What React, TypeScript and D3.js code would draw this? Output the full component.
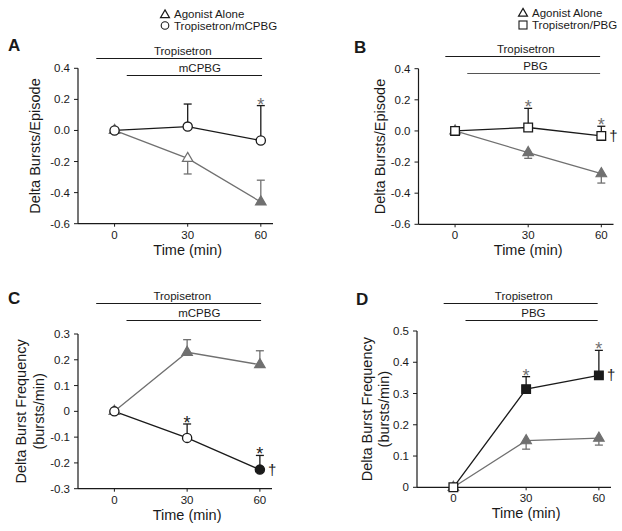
import React from "react";
import * as d3 from "d3";

// ---------- data ----------
const TIMES = [0, 30, 60];
const X_TICKS = [0, 30, 60];

const AB_Y_TICKS = [-0.6, -0.4, -0.2, 0, 0.2, 0.4];
const AB_Y_LABELS = ["-0.6", "-0.4", "-0.2", "0.0", "0.2", "0.4"];
const C_Y_TICKS = [-0.3, -0.2, -0.1, 0, 0.1, 0.2, 0.3];
const C_Y_LABELS = ["-0.3", "-0.2", "-0.1", "0", "0.1", "0.2", "0.3"];
const D_Y_TICKS = [0, 0.1, 0.2, 0.3, 0.4, 0.5];
const D_Y_LABELS = ["0", "0.1", "0.2", "0.3", "0.4", "0.5"];

// Panel A
const A_AGONIST = [0, -0.18, -0.46];
const A_AGONIST_SEM = [0, 0.1, 0.14];
const A_AGONIST_DIR = [-1, -1, 1];
const A_AGONIST_FILLED = [true, false, true];
const A_TREAT = [0, 0.025, -0.065];
const A_TREAT_SEM = [0, 0.145, 0.225];
const A_TREAT_DIR = [1, 1, 1];
const A_TREAT_FILLED = [false, false, false];
const A_STARS = [false, false, true];
const A_DAGGERS = [false, false, false];

// Panel B
const B_AGONIST = [0, -0.139, -0.275];
const B_AGONIST_SEM = [0, 0.037, 0.06];
const B_AGONIST_DIR = [-1, -1, -1];
const B_AGONIST_FILLED = [true, true, true];
const B_TREAT = [0, 0.022, -0.032];
const B_TREAT_SEM = [0, 0.123, 0.062];
const B_TREAT_DIR = [1, 1, 1];
const B_TREAT_FILLED = [false, false, false];
const B_STARS = [false, true, true];
const B_DAGGERS = [false, false, true];

// Panel C
const C_AGONIST = [0, 0.229, 0.181];
const C_AGONIST_SEM = [0, 0.049, 0.054];
const C_AGONIST_DIR = [1, 1, 1];
const C_AGONIST_FILLED = [true, true, true];
const C_TREAT = [0, -0.103, -0.226];
const C_TREAT_SEM = [0, 0.054, 0.055];
const C_TREAT_DIR = [1, 1, 1];
const C_TREAT_FILLED = [false, false, true];
const C_STARS = [false, true, true];
const C_DAGGERS = [false, false, true];

// Panel D
const D_AGONIST = [0, 0.149, 0.157];
const D_AGONIST_SEM = [0, 0.027, 0.022];
const D_AGONIST_DIR = [-1, -1, -1];
const D_AGONIST_FILLED = [true, true, true];
const D_TREAT = [0, 0.314, 0.358];
const D_TREAT_SEM = [0, 0.04, 0.08];
const D_TREAT_DIR = [1, 1, 1];
const D_TREAT_FILLED = [false, true, true];
const D_STARS = [false, true, true];
const D_DAGGERS = [false, false, true];

// treatment bars: [label, start min, end min, label centre min]
const AC_BARS: [string, number, number, number][] = [
  ["Tropisetron", -7.5, 60.5, 28],
  ["mCPBG", 5, 60.5, 35],
];
const BD_BARS: [string, number, number, number][] = [
  ["Tropisetron", -4, 59.5, 29],
  ["PBG", 5, 59.5, 33],
];

const LEGEND_A = ["Agonist Alone", "Tropisetron/mCPBG"];
const LEGEND_B = ["Agonist Alone", "Tropisetron/PBG"];

// ---------- styles ----------
const FONT = "'Liberation Sans', Arial, Helvetica, sans-serif";
const BLACK = "#1a1a1a";
const GRAY = "#707070";

type PanelProps = {
  letter: string;
  letterX: number;
  letterY: number;
  xRange: [number, number];
  yDomain: [number, number];
  yRange: [number, number];
  yTicks: number[];
  yLabels: string[];
  yTitle: string[];
  yTitleX: number[];
  bars: [string, number, number, number][];
  barY: number[];
  barColors: string[];
  agonist: number[];
  agonistSem: number[];
  agonistDir: number[];
  agonistFilled: boolean[];
  treat: number[];
  treatSem: number[];
  treatDir: number[];
  treatFilled: boolean[];
  treatShape: "circle" | "square";
  stars: boolean[];
  daggers: boolean[];
  starColor: string;
};

function Marker({
  x,
  y,
  shape,
  filled,
  color,
  size = 1,
}: {
  x: number;
  y: number;
  shape: string;
  filled: boolean;
  color: string;
  size?: number;
}) {
  if (shape === "circle") {
    return <circle cx={x} cy={y} r={4.6 * size} fill={filled ? color : "#fff"} stroke={color} strokeWidth={1.3} />;
  }
  if (shape === "square") {
    const p = d3.symbol(d3.symbolSquare, 75 * size * size)() as string;
    return <path d={p} transform={`translate(${x},${y})`} fill={filled ? color : "#fff"} stroke={color} strokeWidth={1.3} />;
  }
  const p = d3.symbol(d3.symbolTriangle, 48 * size * size)() as string;
  return <path d={p} transform={`translate(${x},${y})`} fill={filled ? color : "#fff"} stroke={color} strokeWidth={1.2} />;
}

function Panel(p: PanelProps) {
  const x = d3.scaleLinear().domain([-15, 65]).range(p.xRange);
  const y = d3.scaleLinear().domain(p.yDomain).range(p.yRange);
  const line = d3
    .line<number>()
    .x((_, i) => x(TIMES[i]))
    .y((d) => y(d));
  const yBottom = p.yRange[0];
  const yTop = p.yRange[1];
  const axisX = p.xRange[0];
  const yMid = (yTop + yBottom) / 2;
  const capW = 4;

  const errBars = (vals: number[], sem: number[], dir: number[], color: string) =>
    vals.map((v, i) => {
      if (sem[i] === 0) return null;
      const end = v + dir[i] * sem[i];
      const cx = x(TIMES[i]);
      return (
        <g key={i} stroke={color} strokeWidth={1.3}>
          <line x1={cx} x2={cx} y1={y(v)} y2={y(end)} />
          <line x1={cx - capW} x2={cx + capW} y1={y(end)} y2={y(end)} />
        </g>
      );
    });

  return (
    <g fontFamily={FONT}>
      <text x={p.letterX} y={p.letterY} fontSize={17} fontWeight="bold" fill={BLACK}>
        {p.letter}
      </text>
      {/* treatment bars */}
      {p.bars.map((b, i) => (
        <g key={b[0]}>
          <line x1={x(b[1])} x2={x(b[2])} y1={p.barY[i]} y2={p.barY[i]} stroke={p.barColors[i]} strokeWidth={1.2} />
          <text x={x(b[3])} y={p.barY[i] - 4} textAnchor="middle" fontSize={11.5} fill={BLACK}>
            {b[0]}
          </text>
        </g>
      ))}
      {/* axes */}
      <line x1={axisX} x2={axisX} y1={yTop} y2={yBottom} stroke={BLACK} strokeWidth={1.2} />
      <line x1={axisX} x2={p.xRange[1]} y1={yBottom} y2={yBottom} stroke={BLACK} strokeWidth={1.2} />
      {p.yTicks.map((t, i) => (
        <g key={t}>
          <line x1={axisX - 4} x2={axisX} y1={y(t)} y2={y(t)} stroke={BLACK} strokeWidth={1} />
          <text x={axisX - 8} y={y(t)} dy="0.35em" textAnchor="end" fontSize={11.5} fill={BLACK}>
            {p.yLabels[i]}
          </text>
        </g>
      ))}
      {X_TICKS.map((t) => (
        <g key={t}>
          <line x1={x(t)} x2={x(t)} y1={yBottom} y2={yBottom + 3} stroke={BLACK} strokeWidth={1} />
          <text x={x(t)} y={yBottom + 15} textAnchor="middle" fontSize={11.5} fill={BLACK}>
            {t}
          </text>
        </g>
      ))}
      <text x={(x(0) + x(60)) / 2} y={yBottom + 31} textAnchor="middle" fontSize={14.5} fill={BLACK}>
        Time (min)
      </text>
      {p.yTitle.map((t, i) => (
        <text
          key={t}
          transform={`translate(${p.yTitleX[i]},${yMid}) rotate(-90)`}
          textAnchor="middle"
          dy="0.35em"
          fontSize={14.5}
          fill={BLACK}
        >
          {t}
        </text>
      ))}
      {/* lines */}
      <path d={line(p.agonist) as string} fill="none" stroke={GRAY} strokeWidth={1.3} />
      <path d={line(p.treat) as string} fill="none" stroke={BLACK} strokeWidth={1.3} />
      {errBars(p.agonist, p.agonistSem, p.agonistDir, GRAY)}
      {errBars(p.treat, p.treatSem, p.treatDir, BLACK)}
      {p.agonist.map((v, i) => (
        <Marker key={"a" + i} x={x(TIMES[i])} y={y(v)} shape="triangle" filled={p.agonistFilled[i]} color={GRAY} />
      ))}
      {p.treat.map((v, i) => (
        <Marker key={"t" + i} x={x(TIMES[i])} y={y(v)} shape={p.treatShape} filled={p.treatFilled[i]} color={BLACK} />
      ))}
      {p.stars.map((s, i) =>
        s ? (
          <text
            key={"s" + i}
            x={x(TIMES[i])}
            y={y(p.treat[i] + p.treatDir[i] * p.treatSem[i]) + 5}
            textAnchor="middle"
            fontSize={18}
            fill={p.starColor}
          >
            *
          </text>
        ) : null
      )}
      {p.daggers.map((s, i) =>
        s ? (
          <text key={"d" + i} x={x(TIMES[i]) + 8} y={y(p.treat[i]) + 5} fontSize={15} fill={BLACK}>
            †
          </text>
        ) : null
      )}
    </g>
  );
}

function Legend({ x, y, labels, shape }: { x: number; y: number; labels: string[]; shape: string }) {
  return (
    <g fontFamily={FONT}>
      <Marker x={x} y={y + 1} shape="triangle" filled={false} color={BLACK} size={0.85} />
      <text x={x + 9} y={y} dy="0.35em" fontSize={11.5} fill={BLACK}>
        {labels[0]}
      </text>
      {shape === "circle" ? (
        <circle cx={x} cy={y + 11.5} r={3.8} fill="#fff" stroke={BLACK} strokeWidth={1.1} />
      ) : (
        <rect x={x - 4} y={y + 12.5 - 4} width={8} height={8} fill="#fff" stroke={BLACK} strokeWidth={1.1} />
      )}
      <text x={x + 9} y={y + (shape === "circle" ? 11.5 : 12.5)} dy="0.35em" fontSize={11.5} fill={BLACK}>
        {labels[1]}
      </text>
    </g>
  );
}

export default function App() {
  return (
    <svg
      width={622}
      height={531}
      style={{ position: "absolute", left: 0, top: 0, background: "#fff" }}
    >
      <rect width={622} height={531} fill="#fff" />
      <Legend x={165} y={14} labels={LEGEND_A} shape="circle" />
      <Legend x={523} y={12.5} labels={LEGEND_B} shape="square" />
      <Panel
        letter="A"
        letterX={8}
        letterY={51}
        xRange={[78, 273]}
        yDomain={[-0.6, 0.4]}
        yRange={[223.7, 68.3]}
        yTicks={AB_Y_TICKS}
        yLabels={AB_Y_LABELS}
        yTitle={["Delta Bursts/Episode"]}
        yTitleX={[35]}
        bars={AC_BARS}
        barY={[58.5, 75.5]}
        barColors={[BLACK, BLACK]}
        agonist={A_AGONIST}
        agonistSem={A_AGONIST_SEM}
        agonistDir={A_AGONIST_DIR}
        agonistFilled={A_AGONIST_FILLED}
        treat={A_TREAT}
        treatSem={A_TREAT_SEM}
        treatDir={A_TREAT_DIR}
        treatFilled={A_TREAT_FILLED}
        treatShape="circle"
        stars={A_STARS}
        daggers={A_DAGGERS}
        starColor={GRAY}
      />
      <Panel
        letter="B"
        letterX={354}
        letterY={52.5}
        xRange={[418.5, 613.5]}
        yDomain={[-0.6, 0.4]}
        yRange={[224.3, 68.7]}
        yTicks={AB_Y_TICKS}
        yLabels={AB_Y_LABELS}
        yTitle={["Delta Bursts/Episode"]}
        yTitleX={[380]}
        bars={BD_BARS}
        barY={[56.5, 73.5]}
        barColors={[BLACK, "#555"]}
        agonist={B_AGONIST}
        agonistSem={B_AGONIST_SEM}
        agonistDir={B_AGONIST_DIR}
        agonistFilled={B_AGONIST_FILLED}
        treat={B_TREAT}
        treatSem={B_TREAT_SEM}
        treatDir={B_TREAT_DIR}
        treatFilled={B_TREAT_FILLED}
        treatShape="square"
        stars={B_STARS}
        daggers={B_DAGGERS}
        starColor={GRAY}
      />
      <Panel
        letter="C"
        letterX={8}
        letterY={304}
        xRange={[78, 272]}
        yDomain={[-0.3, 0.3]}
        yRange={[488.7, 334]}
        yTicks={C_Y_TICKS}
        yLabels={C_Y_LABELS}
        yTitle={["Delta Burst Frequency", "(bursts/min)"]}
        yTitleX={[21, 39]}
        bars={AC_BARS}
        barY={[303.5, 320.5]}
        barColors={[BLACK, BLACK]}
        agonist={C_AGONIST}
        agonistSem={C_AGONIST_SEM}
        agonistDir={C_AGONIST_DIR}
        agonistFilled={C_AGONIST_FILLED}
        treat={C_TREAT}
        treatSem={C_TREAT_SEM}
        treatDir={C_TREAT_DIR}
        treatFilled={C_TREAT_FILLED}
        treatShape="circle"
        stars={C_STARS}
        daggers={C_DAGGERS}
        starColor={BLACK}
      />
      <Panel
        letter="D"
        letterX={356}
        letterY={304.5}
        xRange={[417, 611]}
        yDomain={[0, 0.5]}
        yRange={[487.3, 331]}
        yTicks={D_Y_TICKS}
        yLabels={D_Y_LABELS}
        yTitle={["Delta Burst Frequency", "(bursts/min)"]}
        yTitleX={[367, 384]}
        bars={BD_BARS}
        barY={[303.5, 320.5]}
        barColors={[BLACK, BLACK]}
        agonist={D_AGONIST}
        agonistSem={D_AGONIST_SEM}
        agonistDir={D_AGONIST_DIR}
        agonistFilled={D_AGONIST_FILLED}
        treat={D_TREAT}
        treatSem={D_TREAT_SEM}
        treatDir={D_TREAT_DIR}
        treatFilled={D_TREAT_FILLED}
        treatShape="square"
        stars={D_STARS}
        daggers={D_DAGGERS}
        starColor={GRAY}
      />
    </svg>
  );
}
